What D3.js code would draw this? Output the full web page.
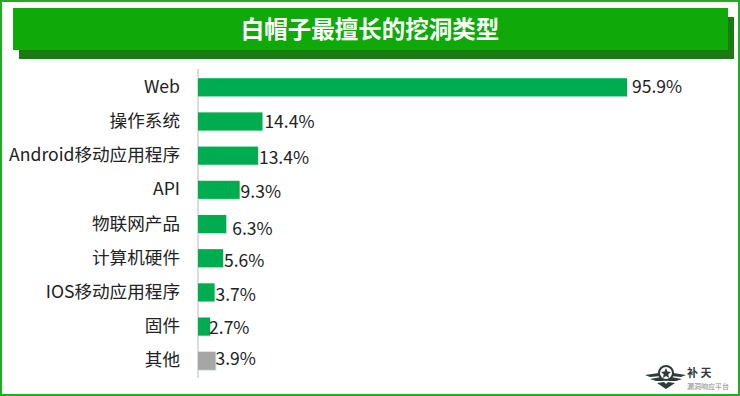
<!DOCTYPE html>
<html>
<head>
<meta charset="utf-8">
<script src="https://cdn.jsdelivr.net/npm/d3@7"></script>
<style>
  html, body { margin: 0; padding: 0; background: #fff; }
  svg { display: block; }
  text { font-family: "Noto Sans CJK SC", "Noto Sans", sans-serif; }
</style>
</head>
<body>
<svg width="740" height="396"></svg>
<script>
var categories = ["Web", "操作系统", "Android移动应用程序", "API", "物联网产品", "计算机硬件", "IOS移动应用程序", "固件", "其他"];
var values = [95.9, 14.4, 13.4, 9.3, 6.3, 5.6, 3.7, 2.7, 3.9];
var titleText = "白帽子最擅长的挖洞类型";

// labels in the original were dragged by hand, so each has its own nudge
var labelNudgeX = [5, 2, 1, 1, 6, 1, 1, -1, 0];
var labelNudgeY = [0, 0, 2, 2, 5, 3, 3, 1, -2];

var svg = d3.select("svg");

// outer frame
svg.append("rect")
	.attr("x", 1).attr("y", 1).attr("width", 738).attr("height", 394)
	.attr("fill", "none").attr("stroke", "#1fae1f").attr("stroke-width", 2);

// title banner + shadow
svg.append("rect")
	.attr("x", 19).attr("y", 17).attr("width", 715).attr("height", 42)
	.attr("fill", "#1c7a12");
svg.append("rect")
	.attr("x", 13).attr("y", 8).attr("width", 715).attr("height", 42)
	.attr("fill", "#0fa90a");
svg.append("text")
	.attr("x", 370).attr("y", 38)
	.attr("text-anchor", "middle")
	.attr("font-size", 23.5).attr("font-weight", 700)
	.attr("fill", "#fff")
	.text(titleText);

var x = d3.scaleLinear().domain([0, 95.9]).range([198, 627]);
var y = d3.scaleBand().domain(categories).range([70, 378]).paddingInner(0.47).paddingOuter(0.24);

// vertical axis
svg.append("line")
	.attr("x1", 198).attr("x2", 198).attr("y1", 69).attr("y2", 378)
	.attr("stroke", "#d0d0d0").attr("stroke-width", 1.5);

// soft edge under the bars
svg.selectAll("rect.edge")
	.data(values)
	.enter()
	.append("rect")
	.classed("edge", true)
	.attr("x", x(0))
	.attr("y", function(d, i) { return y(categories[i]) + 1; })
	.attr("width", function(d) { return x(d) - x(0) + 1; })
	.attr("height", y.bandwidth())
	.attr("fill", "#d8e8dd");

svg.selectAll("rect.bar")
	.data(values)
	.enter()
	.append("rect")
	.classed("bar", true)
	.attr("x", x(0))
	.attr("y", function(d, i) { return y(categories[i]); })
	.attr("width", function(d) { return x(d) - x(0); })
	.attr("height", y.bandwidth())
	.attr("fill", function(d, i) { return categories[i] === "其他" ? "#a6a6a6" : "#00ac50"; });

// category labels
svg.selectAll("text.cat")
	.data(categories)
	.enter()
	.append("text")
	.classed("cat", true)
	.attr("x", 180)
	.attr("y", function(d) { return y(d) + y.bandwidth() / 2 - 0.5; })
	.attr("dy", "0.35em")
	.attr("text-anchor", "end")
	.attr("font-size", 17.6)
	.attr("fill", "#222")
	.text(function(d) { return d; });

// value labels
svg.selectAll("text.val")
	.data(values)
	.enter()
	.append("text")
	.classed("val", true)
	.attr("x", function(d, i) { return x(d) + labelNudgeX[i]; })
	.attr("y", function(d, i) { return y(categories[i]) + y.bandwidth() / 2 + labelNudgeY[i]; })
	.attr("dy", "0.35em")
	.attr("font-size", 17.5)
	.attr("fill", "#222")
	.text(function(d) { return d.toFixed(1) + "%"; });

// logo, bottom right
var logo = svg.append("g").attr("fill", "#2f3a3a");
logo.append("path")
	.attr("d", "M645 375 L659 373 L661 376 L650 377 Z M650 379 L661 377 L664 381 L656 381 Z M657 383 L664 382 L666 384 L668 382 L675 383 L666 389 Z M671 376 L673 373 L686 375 L681 377 Z M668 381 L671 377 L682 379 L676 381 Z");
logo.append("circle")
	.attr("cx", 666).attr("cy", 373).attr("r", 7)
	.attr("fill", "#fff").attr("stroke", "#2f3a3a").attr("stroke-width", 2);
logo.append("path")
	.attr("d", "M666 368 L667.5 371.5 L671 372 L668.3 374.3 L669 378 L666 376 L663 378 L663.7 374.3 L661 372 L664.5 371.5 Z");
logo.append("text")
	.attr("x", 687).attr("y", 376.5)
	.attr("font-size", 11).attr("font-weight", 700)
	.text("补 天");
logo.append("text")
	.attr("x", 687).attr("y", 388.5)
	.attr("font-size", 7)
	.attr("fill", "#888")
	.text("漏洞响应平台");
</script>
</body>
</html>
